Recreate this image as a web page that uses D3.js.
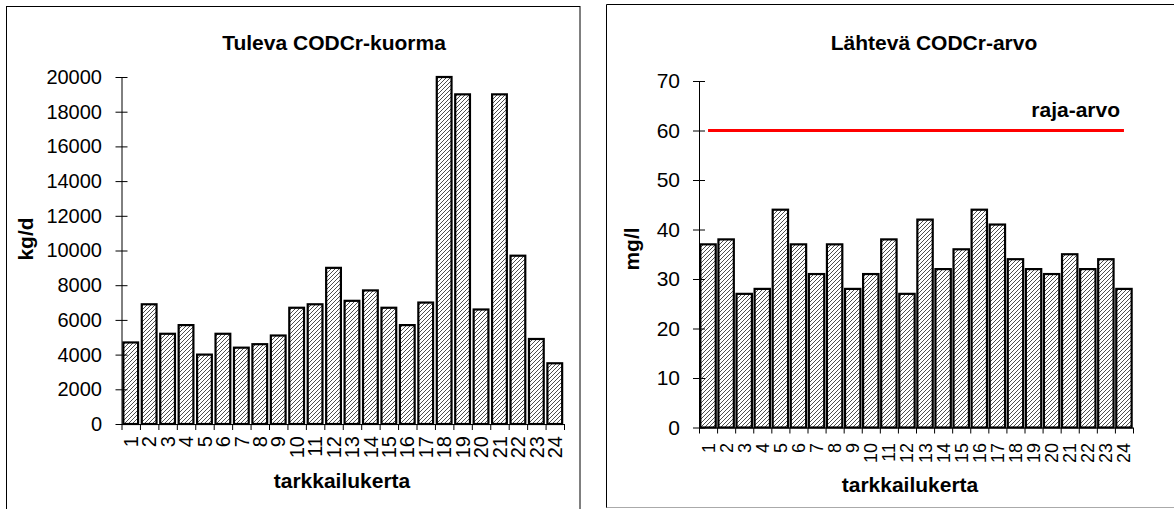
<!DOCTYPE html>
<html>
<head>
<meta charset="utf-8">
<script src="https://cdn.jsdelivr.net/npm/d3@7/dist/d3.min.js"></script>
<style>
  html, body { margin: 0; padding: 0; background: #fff; }
  svg { display: block; }
  text { font-family: "Liberation Sans", Arial, sans-serif; fill: #000; }
</style>
</head>
<body>
<svg id="chart" width="1174" height="509"></svg>
<script>
const categories = ["1","2","3","4","5","6","7","8","9","10","11","12","13","14","15","16","17","18","19","20","21","22","23","24"];
const inflowLoad = [4700,6900,5200,5700,4000,5200,4400,4600,5100,6700,6900,9000,7100,7700,6700,5700,7000,20000,19000,6600,19000,9700,4900,3500];
const effluentCOD = [37,38,27,28,44,37,31,37,28,31,38,27,42,32,36,44,41,34,32,31,35,32,34,28];
const limitValue = 60;
const loadTicks = [0,2000,4000,6000,8000,10000,12000,14000,16000,18000,20000];
const codTicks = [0,10,20,30,40,50,60,70];
const titles = ["Tuleva CODCr-kuorma", "Lähtevä CODCr-arvo"];
const yTitles = ["kg/d", "mg/l"];
const xTitle = "tarkkailukerta";
const limitLabel = "raja-arvo";

const svg = d3.select("#chart");

// hatch pattern
const defs = svg.append("defs");
const pat = defs.append("pattern")
  .attr("id", "hatch")
  .attr("patternUnits", "userSpaceOnUse")
  .attr("width", 4).attr("height", 4);
pat.append("rect").attr("width", 4).attr("height", 4).attr("fill", "#fff");
pat.append("path")
  .attr("d", "M-1,1 l2,-2 M0,4 l4,-4 M3,5 l2,-2")
  .attr("stroke", "#3a3a3a").attr("stroke-width", 0.9);

// panel borders
svg.append("rect").attr("x", 6.5).attr("y", 6.5).attr("width", 573.5).attr("height", 520)
  .attr("fill", "none").attr("stroke", "#000").attr("stroke-width", 1);
svg.append("path").attr("d", "M606.5,508 V4.5 H1180")
  .attr("fill", "none").attr("stroke", "#000").attr("stroke-width", 1);
svg.append("path").attr("d", "M606.5,507.5 H1180")
  .attr("fill", "none").attr("stroke", "#aaa").attr("stroke-width", 1);

function drawPanel(cfg) {
  const g = svg.append("g");
  const x = d3.scaleBand().domain(categories).range([cfg.x0, cfg.x1])
    .paddingInner(cfg.pad).paddingOuter(cfg.pad / 2);
  const y = d3.scaleLinear().domain([0, cfg.ymax]).range([cfg.y0, cfg.y1]);
  const xb = d3.scaleLinear().domain([0, categories.length]).range([cfg.x0, cfg.x1]);

  // bars
  g.selectAll("rect.bar").data(cfg.values).join("rect")
    .attr("class", "bar")
    .attr("x", (d, i) => x(categories[i]))
    .attr("width", x.bandwidth())
    .attr("y", d => y(d))
    .attr("height", d => y(0) - y(d))
    .attr("fill", "url(#hatch)")
    .attr("stroke", "#000")
    .attr("stroke-width", 2.2);

  // y axis
  const ya = g.append("g").attr("transform", `translate(${cfg.x0},0)`)
    .call(d3.axisLeft(y).tickValues(cfg.ticks).tickSize(6).tickPadding(cfg.yPad).tickFormat(d3.format("d")));
  ya.selectAll(".tick line").attr("x1", 6);
  ya.selectAll("text").style("font-size", cfg.yFont + "px");
  ya.select(".domain").attr("d", `M0.5,${cfg.y0}V${cfg.y1}`);

  // x axis boundaries ticks
  const xa = g.append("g").attr("transform", `translate(0,${cfg.y0})`)
    .call(d3.axisBottom(xb).tickValues(d3.range(categories.length + 1)).tickSize(6).tickFormat(""));
  xa.select(".domain").attr("d", `M${cfg.x0},0.5H${cfg.x1}`);

  // x labels
  const xl = g.append("g").attr("transform", `translate(0,${cfg.y0})`)
    .call(d3.axisBottom(x).tickSize(0));
  xl.select(".domain").remove();
  xl.selectAll("text")
    .attr("transform", "rotate(-90)")
    .attr("x", -cfg.xLabOff).attr("y", 0).attr("dy", "0.36em")
    .style("text-anchor", "end")
    .style("font-size", cfg.xFont + "px");

  // titles
  g.append("text").attr("x", cfg.titleX).attr("y", 50)
    .attr("text-anchor", "middle").style("font-size", "21px").style("font-weight", "bold")
    .text(cfg.title);
  g.append("text").attr("transform", `translate(${cfg.yTitleX},${cfg.yTitleY}) rotate(-90)`)
    .attr("text-anchor", "middle").style("font-size", "21px").style("font-weight", "bold")
    .text(cfg.yTitle);
  g.append("text").attr("x", cfg.xTitleX).attr("y", cfg.xTitleY)
    .attr("text-anchor", "middle").style("font-size", "21px").style("font-weight", "bold")
    .text(xTitle);

  return { g, x, y };
}

drawPanel({
  x0: 121.5, x1: 564, y0: 424, y1: 77, ymax: 20000, pad: 0.2,
  values: inflowLoad, ticks: loadTicks, yPad: 13.5, yFont: 20, xFont: 20, xLabOff: 12,
  title: titles[0], titleX: 334, yTitle: yTitles[0], yTitleX: 33, yTitleY: 239,
  xTitleX: 342, xTitleY: 488
});

const right = drawPanel({
  x0: 699, x1: 1133, y0: 427.5, y1: 81, ymax: 70, pad: 0.15,
  values: effluentCOD, ticks: codTicks, yPad: 13, yFont: 21, xFont: 18, xLabOff: 15.5,
  title: titles[1], titleX: 934, yTitle: yTitles[1], yTitleX: 638.5, yTitleY: 249,
  xTitleX: 910, xTitleY: 492
});

// limit line
const limitSeries = categories.map(c => ({ c, v: limitValue }));
right.g.append("path")
  .datum(limitSeries)
  .attr("d", d3.line().x(d => right.x(d.c) + right.x.bandwidth() / 2).y(d => right.y(d.v)))
  .attr("fill", "none").attr("stroke", "#ff0000").attr("stroke-width", 3);
right.g.append("text").attr("x", 1120).attr("y", 117)
  .attr("text-anchor", "end").style("font-size", "21px").style("font-weight", "bold")
  .text(limitLabel);
</script>
</body>
</html>
